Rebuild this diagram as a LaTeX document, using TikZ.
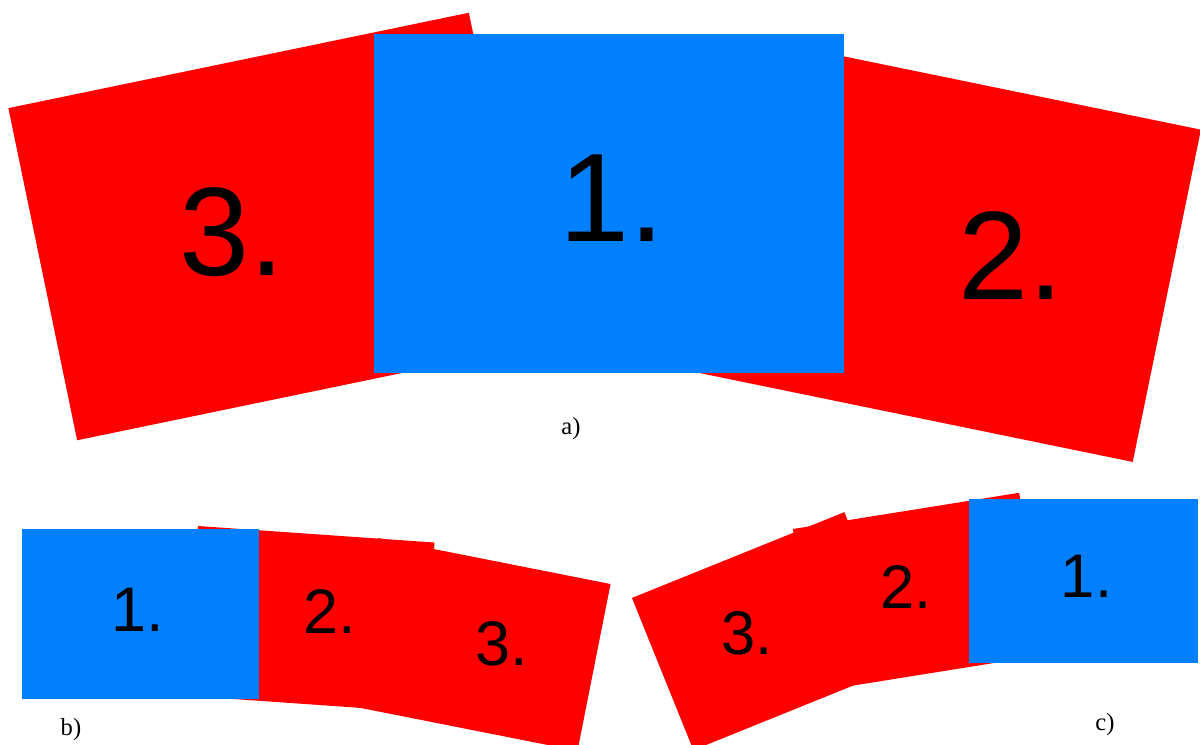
\documentclass[tikz,border=0pt]{standalone}
\usepackage{fontspec}
\setmainfont{Liberation Serif}
\newfontfamily\numfont{Liberation Sans}

\definecolor{panelblue}{RGB}{0,128,255}
\definecolor{panelred}{RGB}{255,0,0}

\begin{document}
\begin{tikzpicture}[
  x=0.01cm, y=-0.01cm,
  big/.style={inner sep=0pt, minimum width=4.70cm, minimum height=3.39cm},
  smallb/.style={inner sep=0pt, minimum width=2.37cm, minimum height=1.70cm},
  smallc/.style={inner sep=0pt, minimum width=2.29cm, minimum height=1.64cm},
  blueface/.style={fill=panelblue},
  redface/.style={fill=panelred},
  num/.style={inner sep=0pt, font=\numfont\fontsize{#1}{#1}\selectfont},
  caption/.style={inner sep=0pt, font=\fontsize{7}{8}\selectfont}
]
  \useasboundingbox (0,0) rectangle (1200,744);

  % a) three large sheets
  \node[big, redface, rotate=11.7] (aThree) at (273,226.5) {};
  \node[big, redface, rotate=-11.6] (aTwo) at (936.5,248.5) {};
  \node[big, blueface] (aOne) at (609,203.5) {};
  \node[num=35.8] (aOneTxt) at (612,198) {1.};
  \node[num=35.8] (aTwoTxt) at (1011,256) {2.};
  \node[num=35.8] (aThreeTxt) at (232,232.5) {3.};
  \node[caption] (capA) at (571,428.5) {a)};

  % b) chain to the right
  \node[smallb, redface, rotate=-4] (bTwo) at (310.3,619.1) {};
  \node[smallb, redface, rotate=-11.2] (bThree) at (477.7,644.4) {};
  \node[smallb, blueface] (bOne) at (140.5,614) {};
  \node[num=17.9] (bOneTxt) at (137.5,609.5) {1.};
  \node[num=17.9] (bTwoTxt) at (330,611) {2.};
  \node[num=17.9] (bThreeTxt) at (501.5,644) {3.};
  \node[caption] (capB) at (71,730) {b)};

  % c) chain to the left
  \node[smallc, redface, rotate=22] (cThree) at (768.9,631.1) {};
  \node[smallc, redface, rotate=9.1] (cTwo) at (919,591.9) {};
  \node[smallc, blueface] (cOne) at (1083.5,581) {};
  \node[num=17.5] (cOneTxt) at (1086.5,576) {1.};
  \node[num=17.5] (cTwoTxt) at (906,587) {2.};
  \node[num=17.5] (cThreeTxt) at (747,633.5) {3.};
  \node[caption] (capC) at (1105,725) {c)};
\end{tikzpicture}
\end{document}
